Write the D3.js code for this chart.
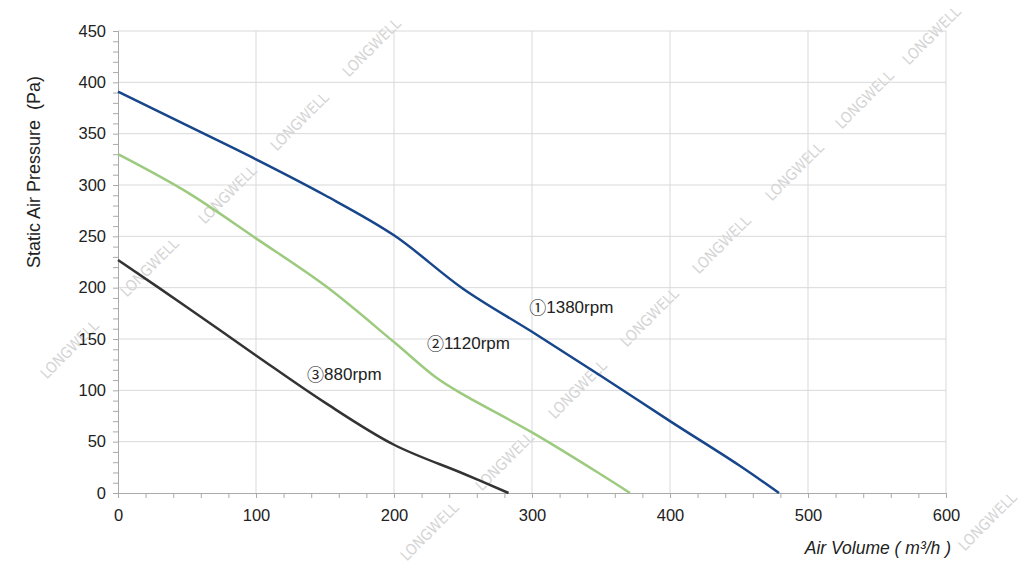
<!DOCTYPE html>
<html><head><meta charset="utf-8">
<script src="https://cdn.jsdelivr.net/npm/d3@7"></script>
<style>body{margin:0;background:#fff;}svg{display:block;font-family:"Liberation Sans",Arial,sans-serif;}</style>
</head><body><svg id="c" width="1024" height="582"></svg>
<script>
const xTicks = [0,100,200,300,400,500,600];
const yTicks = [0,50,100,150,200,250,300,350,400,450];
const series1380 = [[0,391],[50,358],[100,325],[150,290],[200,251],[250,199],[300,157],[350,114],[400,70],[450,27],[479,0]];
const series1120 = [[0,330],[50,293],[100,248],[150,202],[200,147],[230,113],[250,96],[300,59],[350,18],[371,0]];
const series880 = [[0,227],[50,181],[100,134],[150,88],[200,47],[250,19],[283,0]];
const labels = [
  {mark:"①", text:"1380rpm", x:298, y:179},
  {mark:"②", text:"1120rpm", x:224, y:144},
  {mark:"③", text:"880rpm", x:137, y:114}
];
const seriesColors = ["#17468a","#9cca7e","#333333"];

const svg = d3.select("#c");
const m = {l:118, r:946, t:31, b:493};
const x = d3.scaleLinear().domain([0,600]).range([m.l,m.r]);
const y = d3.scaleLinear().domain([0,450]).range([m.b,m.t]);

// watermark
const wm = svg.append("g").attr("fill","#d4d4d4").attr("font-size",15).attr("font-family","DejaVu Sans Condensed, Liberation Sans Narrow, sans-serif");
const wmPos = [[372,48],[300,122],[228,195],[150,268],[70,350],[932,36],[865,100],[795,172],[722,245],[650,318],[578,390],[505,462],[430,532],[988,522]];
wmPos.forEach(p=>wm.append("text").attr("transform",`translate(${p[0]},${p[1]}) rotate(-45)`).attr("text-anchor","middle").attr("dominant-baseline","middle").text("LONGWELL"));

// grid
const g = svg.append("g");
g.selectAll(".gx").data(xTicks.slice(1)).join("line").attr("x1",d=>x(d)).attr("x2",d=>x(d)).attr("y1",m.t).attr("y2",m.b).attr("stroke","#d9d9d9").attr("stroke-width",1);
g.selectAll(".gy").data(yTicks.slice(1)).join("line").attr("x1",m.l).attr("x2",m.r).attr("y1",d=>y(d)).attr("y2",d=>y(d)).attr("stroke","#d9d9d9").attr("stroke-width",1);

// axes
const xa = svg.append("g").attr("transform",`translate(0,${m.b})`)
  .call(d3.axisBottom(x).tickValues(d3.range(0,601,20)).tickSize(5).tickFormat(""));
const ya = svg.append("g").attr("transform",`translate(${m.l},0)`)
  .call(d3.axisLeft(y).tickValues(d3.range(0,451,10)).tickSize(5).tickFormat(""));
[xa,ya].forEach(a=>{a.select(".domain").attr("stroke","#aaaaaa");a.selectAll(".tick line").attr("stroke","#aaaaaa");});

const xl = svg.append("g").attr("transform",`translate(0,${m.b})`)
  .call(d3.axisBottom(x).tickValues(xTicks).tickSize(0).tickPadding(16));
xl.select(".domain").remove();
xl.selectAll("text").attr("font-size",16.5).attr("fill","#222").attr("font-family","Liberation Sans, Arial, sans-serif");
const yl = svg.append("g").attr("transform",`translate(${m.l},0)`)
  .call(d3.axisLeft(y).tickValues(yTicks).tickSize(0).tickPadding(12));
yl.select(".domain").remove();
yl.selectAll("text").attr("font-size",16.5).attr("fill","#222").attr("font-family","Liberation Sans, Arial, sans-serif");

// lines
const line = d3.line().x(d=>x(d[0])).y(d=>y(d[1])).curve(d3.curveCatmullRom.alpha(0.5));
[series1380,series1120,series880].forEach((s,i)=>{
  svg.append("path").datum(s).attr("d",line).attr("fill","none").attr("stroke",seriesColors[i]).attr("stroke-width",2.5).attr("stroke-linejoin","round");
});

// labels
const lt = svg.selectAll(".lab").data(labels).join("text").attr("x",d=>x(d.x)).attr("y",d=>y(d.y)).attr("font-size",17).attr("fill","#222").attr("dominant-baseline","middle");
lt.append("tspan").attr("font-family","Noto Sans CJK SC, sans-serif").attr("font-size",17).text(d=>d.mark);
lt.append("tspan").text(d=>d.text);

// titles
svg.append("text").attr("transform","translate(40,172) rotate(-90)").attr("text-anchor","middle").attr("font-size",18).attr("fill","#222").attr("xml:space","preserve").text("Static Air Pressure  (Pa)");
svg.append("text").attr("x",951).attr("y",554).attr("text-anchor","end").attr("font-size",17.5).attr("font-style","italic").attr("fill","#222").text("Air Volume ( m³/h )");
</script></body></html>
